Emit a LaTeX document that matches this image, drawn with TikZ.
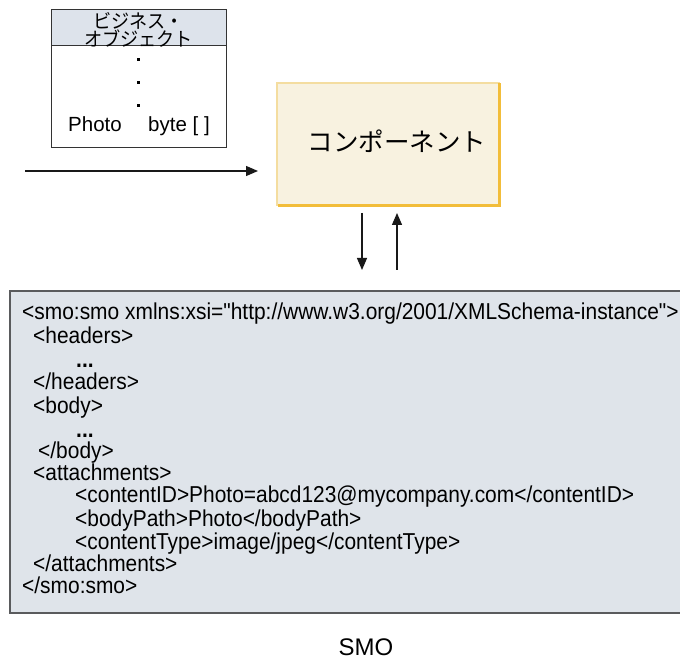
\documentclass[tikz,border=0pt]{standalone}
\usepackage{fontspec}
\setmainfont{Liberation Sans}[Ligatures=TeXOff]
\newfontfamily\codefont{Liberation Sans}[Ligatures=TeXOff, FakeStretch=0.91]
\newfontfamily\jpfont{Noto Sans CJK JP}[FakeStretch=0.93]
\newfontfamily\jpcomp{Noto Sans CJK JP}
\usetikzlibrary{arrows.meta}
\definecolor{hdrfill}{HTML}{DDE3EB}
\definecolor{smofill}{HTML}{DFE4EA}
\definecolor{smoline}{HTML}{5A5B5D}
\definecolor{compfill}{HTML}{F8F2E0}
\definecolor{compedge}{HTML}{F4DDA0}
\definecolor{compedgedark}{HTML}{F2BD3A}
\tikzset{
  code/.style={anchor=west, inner sep=0pt, font=\codefont\fontsize{23}{23}\selectfont, text height=16.5pt, text depth=0pt},
  field/.style={anchor=west, inner sep=0pt, font=\fontsize{20.5}{21}\selectfont, text height=14.7pt, text depth=0pt},
  flow/.style={draw=black!90, line width=1.3pt, -{Triangle[length=12pt,width=10pt]}},
  dotmark/.style={fill=black, minimum size=3pt, inner sep=0pt}
}
\begin{document}
\begin{tikzpicture}[x=1pt,y=-1pt]
\useasboundingbox (0,0) rectangle (680,660);
% business object
\fill[hdrfill] (51,10) rectangle (226,46);
\draw[line width=1pt, black!80] (51,10) rectangle (226,148);
\draw[line width=1pt, black!80] (51,46) -- (226,46);
\node[inner sep=0pt, align=center, font=\jpfont\fontsize{19.5}{14.5}\selectfont] (bohdr) at (138.5,30) {ビジネス・\\オブジェクト};
\node[dotmark] (d1) at (138,60) {};
\node[dotmark] (d2) at (138,83) {};
\node[dotmark] (d3) at (138,106) {};
\node[field] (photo) at (68,124.5) {Photo};
\node[field] (byte) at (148,124.5) {byte [ ]};
% input arrow
\coordinate (inL) at (25,171);
\coordinate (inR) at (258,171);
\draw[flow] (inL) -- (inR);
% component
\fill[compfill] (277,83) rectangle (500,206);
\draw[compedge, line width=2pt] (277,206) -- (277,83) -- (500,83);
\draw[compedgedark, line width=3pt] (278,205.5) -- (499,205.5) -- (499,83);
\node[inner sep=0pt, font=\jpcomp\fontsize{25.5}{26}\selectfont] (comp) at (397,141) {コンポーネント};
% arrows
\coordinate (dTop) at (362,213);
\coordinate (dBot) at (362,270);
\coordinate (uTop) at (397,213);
\coordinate (uBot) at (397,270);
\draw[flow] (dTop) -- (dBot);
\draw[flow] (uBot) -- (uTop);
% SMO box
\draw[smoline, fill=smofill, line width=1.2pt] (10,291) rectangle (690,613);
\node[code] (l1) at (22,311) {<smo:smo xmlns:xsi="http://www.w3.org/2001/XMLSchema-instance">};
\node[code] (l2) at (33,335) {<headers>};
\node[code] (l3) at (76,359) {\bfseries ...};
\node[code] (l4) at (33,381) {</headers>};
\node[code] (l5) at (33,405) {<body>};
\node[code] (l6) at (76,429) {\bfseries ...};
\node[code] (l7) at (38,450) {</body>};
\node[code] (l8) at (33,472) {<attachments>};
\node[code] (l9) at (75,494) {<contentID>Photo=abcd123@mycompany.com</contentID>};
\node[code] (l10) at (75,518) {<bodyPath>Photo</bodyPath>};
\node[code] (l11) at (75,541) {<contentType>image/jpeg</contentType>};
\node[code] (l12) at (33,563) {</attachments>};
\node[code] (l13) at (22,585) {</smo:smo>};
\node[inner sep=0pt, font=\fontsize{24}{24}\selectfont, text height=17.2pt, text depth=0pt] (smo) at (366,647) {SMO};
\end{tikzpicture}
\end{document}
